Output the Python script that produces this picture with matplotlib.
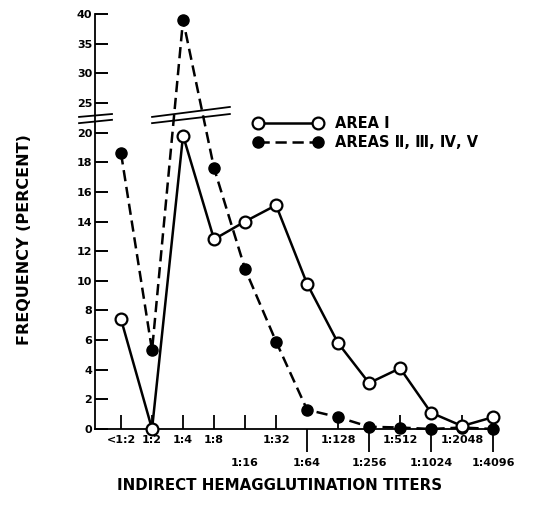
import numpy as np
import matplotlib
matplotlib.use("Agg")
import matplotlib.pyplot as plt
from matplotlib.lines import Line2D

# ---------------- data ----------------
titers = ["<1:2", "1:2", "1:4", "1:8", "1:16", "1:32", "1:64",
          "1:128", "1:256", "1:512", "1:1024", "1:2048", "1:4096"]
label_row = [1, 1, 1, 1, 2, 1, 2, 1, 2, 1, 2, 1, 2]
area_1 = [7.4, 0.0, 19.8, 12.8, 14.0, 15.1, 9.8, 5.8, 3.1, 4.1, 1.1, 0.2, 0.8]
areas_2_5 = [18.6, 5.3, 39.0, 17.6, 10.8, 5.9, 1.3, 0.8, 0.15, 0.1, 0.0, 0.1, 0.0]
y_ticks = [0, 2, 4, 6, 8, 10, 12, 14, 16, 18, 20, 25, 30, 35, 40]
series_labels = ["AREA \u2160", "AREAS \u2161, \u2162, \u2163, \u2164"]
x_title = "INDIRECT HEMAGGLUTINATION TITERS"
y_title = "FREQUENCY (PERCENT)"

plt.rcParams["font.family"] = ["DejaVu Sans"]
plt.rcParams["font.weight"] = "bold"

W, H = 538, 514
fig = plt.figure(figsize=(W / 100, H / 100), dpi=100)
ax = fig.add_axes([95 / W, 85 / H, 399 / W, 415 / H])

# broken y-scale: above 20 the axis is compressed
BREAK, FACTOR = 20.0, 0.4
def fwd(v):
    v = np.asarray(v, dtype=float)
    return np.where(v <= BREAK, v, BREAK + (v - BREAK) * FACTOR)
def inv(t):
    t = np.asarray(t, dtype=float)
    return np.where(t <= BREAK, t, BREAK + (t - BREAK) / FACTOR)
ax.set_yscale("function", functions=(fwd, inv))

x = np.arange(len(titers))
ax.plot(x, areas_2_5, color="black", lw=1.8, ls=(0, (4.5, 2.3)),
        marker="o", ms=8, mfc="black", mec="black", zorder=3,
        label=series_labels[1], clip_on=False)
ax.plot(x, area_1, color="black", lw=1.8, ls="-",
        marker="o", ms=8.5, mfc="white", mec="black", mew=1.6, zorder=4,
        label=series_labels[0], clip_on=False)

ax.set_ylim(0, 40)
ax.set_xlim(-0.84, len(titers) - 1 + 0.03)
ax.set_yticks(y_ticks)
ax.set_yticklabels([str(t) for t in y_ticks])
ax.yaxis.set_minor_locator(matplotlib.ticker.NullLocator())
ax.tick_params(axis="y", direction="in", length=9.5, width=1.4, pad=2,
               labelsize=8)

# x ticks: short inward ticks, long outward ticks for second-row labels
up = [i for i in x if label_row[i] == 1 or titers[i] == "1:16"]
down = [i for i in x if label_row[i] == 2 and titers[i] != "1:16"]
ax.set_xticks(up)
ax.set_xticklabels([])
ax.set_xticks(down, minor=True)
ax.tick_params(axis="x", which="major", direction="in", length=10,
               width=1.3, labelbottom=False)
ax.tick_params(axis="x", which="minor", direction="out", length=16.5,
               width=1.3, labelbottom=False)

trans = ax.get_xaxis_transform()
for i, lab in enumerate(titers):
    yy = -0.027 if label_row[i] == 1 else -0.082
    ax.text(i, yy, lab, transform=trans, ha="center", va="center",
            fontsize=8, fontweight="bold")

for s in ["top", "right"]:
    ax.spines[s].set_visible(False)
ax.spines["left"].set_linewidth(1.3)
ax.spines["bottom"].set_linewidth(1.3)

# break marks
def brk(x0, x1, y0, y1):
    ax.add_line(Line2D([x0, x1], [y0, y1], transform=ax.transAxes,
                       color="black", lw=1.3, clip_on=False, zorder=5))
brk(-0.04, 0.0426, 0.752, 0.759)
brk(-0.04, 0.0426, 0.737, 0.745)
brk(0.143, 0.338, 0.752, 0.776)
brk(0.143, 0.338, 0.737, 0.759)

handles, labels = ax.get_legend_handles_labels()
leg = ax.legend(handles[::-1], labels[::-1], loc="upper left",
                bbox_to_anchor=(0.3975, 0.755), frameon=False,
                numpoints=2, handlelength=4.7, handletextpad=0.86,
                borderpad=0, borderaxespad=0, labelspacing=0.3,
                prop={"size": 10.5, "weight": "bold"})

fig.text(25 / W, 1 - 240 / H, y_title, rotation=90, ha="center",
         va="center", fontsize=11.5, fontweight="bold")
fig.text(280 / W, 1 - 485 / H, x_title, ha="center", va="center",
         fontsize=10.8, fontweight="bold")

fig.savefig("out.png", dpi=100)
